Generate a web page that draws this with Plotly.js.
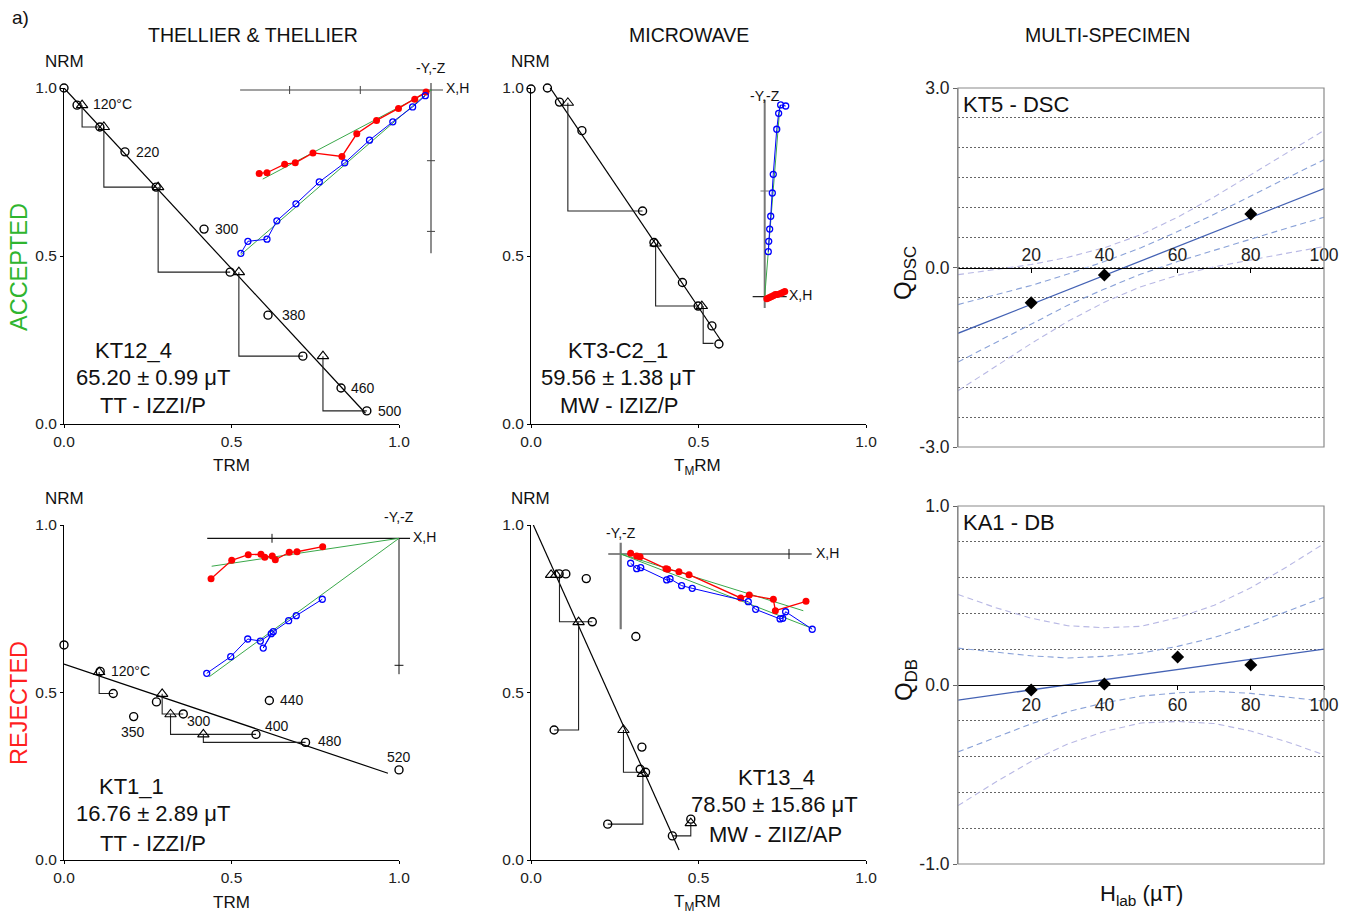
<!DOCTYPE html>
<html><head><meta charset="utf-8">
<script src="https://cdn.plot.ly/plotly-3.0.1.min.js"></script>
<style>html,body{margin:0;padding:0;background:#fff}#chart{width:1349px;height:914px}</style>
</head><body><div id="chart"></div>
<script>
const W = 1349, H = 914;
const fx = p => p / W, fy = p => 1 - p / H;
const FONT = 'Arial, "Liberation Sans", Helvetica, sans-serif';

// ===== Panel 1: Thellier accepted (KT12_4) =====
const ttA_trm = [0, 0.039, 0.107, 0.182, 0.275, 0.418, 0.496, 0.609, 0.713, 0.827, 0.904];
const ttA_nrm = [1.0, 0.949, 0.884, 0.810, 0.705, 0.580, 0.452, 0.324, 0.202, 0.107, 0.039];
const ttA_chkTrm = [0.054, 0.119, 0.281, 0.522, 0.773];
const ttA_chkNrm = [0.949, 0.884, 0.705, 0.452, 0.202];
const ttA_stepX0 = [0.054, 0.119, 0.281, 0.522, 0.773];
const ttA_stepY0 = [0.949, 0.884, 0.705, 0.452, 0.202];
const ttA_stepX1 = [0.107, 0.275, 0.496, 0.713, 0.904];
const ttA_stepY1 = [0.884, 0.705, 0.452, 0.202, 0.039];
const ttA_fitTrm = [0, 0.90];
const ttA_fitNrm = [1.0, 0.032];
const ttA_tempLbl = ['120°C', '220', '300', '380', '460', '500'];
const ttA_tempX = [0.081, 0.209, 0.445, 0.645, 0.851, 0.931];
const ttA_tempY = [0.952, 0.810, 0.580, 0.324, 0.107, 0.039];

// Zijderveld inset 1 (units of one tick spacing)
const zA_hX = [-2.43, -2.32, -2.07, -1.92, -1.67, -1.26, -1.05, -0.77, -0.46, -0.23, -0.07];
const zA_hY = [-1.18, -1.17, -1.05, -1.03, -0.89, -0.94, -0.62, -0.43, -0.26, -0.13, -0.03];
const zA_vX = [-2.69, -2.59, -2.32, -2.18, -1.91, -1.58, -1.22, -0.87, -0.54, -0.26, -0.08];
const zA_vY = [-2.31, -2.14, -2.11, -1.85, -1.61, -1.30, -1.03, -0.71, -0.45, -0.24, -0.08];
const zA_hFitX = [-2.38, 0.01], zA_hFitY = [-1.26, 0.0];
const zA_vFitX = [-2.69, 0.0], zA_vFitY = [-2.33, 0.0];

// ===== Panel 2: Microwave accepted (KT3-C2_1) =====
const mwA_trm = [0, 0.049, 0.085, 0.152, 0.333, 0.367, 0.452, 0.499, 0.540, 0.561];
const mwA_nrm = [0.997, 1.0, 0.958, 0.873, 0.634, 0.540, 0.421, 0.351, 0.292, 0.238];
const mwA_chkTrm = [0.110, 0.372, 0.510];
const mwA_chkNrm = [0.956, 0.537, 0.351];
const mwA_stepX0 = [0.110, 0.372, 0.514];
const mwA_stepY0 = [0.956, 0.537, 0.351];
const mwA_stepX1 = [0.333, 0.499, 0.545];
const mwA_stepY1 = [0.634, 0.351, 0.240];
const mwA_fitTrm = [0.057, 0.57];
const mwA_fitNrm = [1.001, 0.244];

const zB_vX = [0.199, 0.151, 0.132, 0.114, 0.081, 0.072, 0.057, 0.047, 0.038, 0.034];
const zB_vY = [1.804, 1.814, 1.735, 1.584, 1.158, 0.981, 0.761, 0.640, 0.524, 0.426];
const zB_hX = [0.19, 0.17, 0.15, 0.12, 0.10, 0.08, 0.06, 0.04, 0.02];
const zB_hY = [0.05, 0.04, 0.03, 0.02, 0.02, 0.01, 0.0, -0.01, -0.02];
const zB_vFitX = [0, 0.145], zB_vFitY = [0, 1.814];
const zB_hFitX = [0, 0.19], zB_hFitY = [0, 0.045];

// ===== Panel 4: Thellier rejected (KT1_1) =====
const ttR_trm = [0, 0.108, 0.147, 0.208, 0.276, 0.356, 0.573, 0.613, 0.721, 1.0];
const ttR_nrm = [0.642, 0.563, 0.497, 0.428, 0.472, 0.436, 0.375, 0.476, 0.351, 0.269];
const ttR_chkTrm = [0.105, 0.293, 0.318, 0.416];
const ttR_chkNrm = [0.561, 0.496, 0.435, 0.375];
const ttR_stepX0 = [0.105, 0.293, 0.318, 0.416];
const ttR_stepY0 = [0.561, 0.496, 0.435, 0.375];
const ttR_stepX1 = [0.147, 0.356, 0.573, 0.721];
const ttR_stepY1 = [0.497, 0.436, 0.375, 0.351];
const ttR_fitTrm = [0, 0.967];
const ttR_fitNrm = [0.585, 0.259];
const ttR_tempLbl = ['120°C', '350', '300', '400', '440', '480', '520'];
const ttR_tempX = [0.134, 0.207, 0.404, 0.635, 0.639, 0.752, 1.0];
const ttR_tempY = [0.564, 0.383, 0.416, 0.401, 0.479, 0.355, 0.307];
const ttR_tempAnchor = ['left', 'center', 'center', 'center', 'left', 'left', 'center'];

const zD_hX = [-1.480, -1.317, -1.187, -1.087, -1.057, -0.998, -0.974, -0.864, -0.803, -0.601];
const zD_hY = [-0.318, -0.173, -0.129, -0.126, -0.150, -0.139, -0.169, -0.110, -0.106, -0.066];
const zD_vX = [-1.514, -1.325, -1.191, -1.092, -1.006, -1.069, -0.990, -0.869, -0.809, -0.604];
const zD_vY = [-1.063, -0.932, -0.793, -0.809, -0.751, -0.864, -0.735, -0.649, -0.609, -0.480];
const zD_hFitX = [-1.475, 0], zD_hFitY = [-0.220, 0];
const zD_vFitX = [-1.494, 0], zD_vFitY = [-1.090, 0];

// ===== Panel 5: Microwave rejected (KT13_4) =====
const mwR_trm = [0, 0.084, 0.104, 0.165, 0.183, 0.313, 0.069, 0.331, 0.326, 0.342, 0.229, 0.422, 0.477];
const mwR_nrm = [1.003, 0.854, 0.854, 0.840, 0.711, 0.667, 0.388, 0.337, 0.271, 0.262, 0.107, 0.072, 0.122];
const mwR_chkTrm = [0.060, 0.075, 0.142, 0.276, 0.334, 0.477];
const mwR_chkNrm = [0.851, 0.851, 0.710, 0.388, 0.257, 0.110];
const mwR_stepX0 = [0.085, 0.142, 0.276, 0.334, 0.477];
const mwR_stepY0 = [0.851, 0.710, 0.388, 0.257, 0.110];
const mwR_stepX1 = [0.183, 0.069, 0.342, 0.229, 0.422];
const mwR_stepY1 = [0.711, 0.388, 0.262, 0.107, 0.072];
const mwR_fitTrm = [0.007, 0.442];
const mwR_fitNrm = [1.0, 0.030];

const zE_hX = [0.059, 0.095, 0.115, 0.269, 0.279, 0.346, 0.406, 0.713, 0.764, 0.907, 0.919, 1.101];
const zE_hY = [0.004, -0.012, -0.016, -0.087, -0.091, -0.105, -0.123, -0.261, -0.244, -0.269, -0.337, -0.281];
const zE_vX = [0.059, 0.095, 0.119, 0.273, 0.293, 0.362, 0.425, 0.758, 0.802, 0.947, 0.963, 0.980, 1.138];
const zE_vY = [-0.055, -0.087, -0.081, -0.154, -0.147, -0.188, -0.204, -0.283, -0.329, -0.386, -0.382, -0.343, -0.447];
const zE_hFitX = [0, 1.085], zE_hFitY = [0, -0.337];
const zE_vFitX = [0, 1.135], zE_vFitY = [0, -0.441];

// ===== Panel 3: Multi-specimen DSC (KT5) =====
const dsc_H = [20, 40, 80];
const dsc_Q = [-0.59, -0.126, 0.896];
const dsc_fitH = [0, 100], dsc_fitQ = [-1.10, 1.32];
const dsc_bandH = [0, 10, 20, 30, 40, 50, 60, 70, 80, 90, 100];
const dsc_inUp = [-0.62, -0.46, -0.30, -0.11, 0.10, 0.33, 0.60, 0.89, 1.20, 1.50, 1.80];
const dsc_inLo = [-1.58, -1.26, -0.94, -0.63, -0.36, -0.11, 0.10, 0.29, 0.48, 0.66, 0.84];
const dsc_outUp = [-0.12, -0.04, 0.05, 0.17, 0.33, 0.55, 0.84, 1.18, 1.55, 1.92, 2.29];
const dsc_outLo = [-2.06, -1.66, -1.27, -0.90, -0.58, -0.32, -0.13, 0.01, 0.13, 0.24, 0.35];

// ===== Panel 6: Multi-specimen DB (KA1) =====
const db_H = [20, 40, 60, 80];
const db_Q = [-0.028, 0.006, 0.156, 0.112];
const db_fitH = [0, 100], db_fitQ = [-0.084, 0.20];
const db_bandH = [0, 10, 20, 30, 40, 50, 60, 70, 80, 90, 100];
const db_inUp = [0.206, 0.184, 0.163, 0.151, 0.160, 0.178, 0.216, 0.265, 0.333, 0.412, 0.490];
const db_inLo = [-0.374, -0.296, -0.217, -0.149, -0.100, -0.062, -0.044, -0.035, -0.047, -0.068, -0.090];
const db_outUp = [0.506, 0.434, 0.373, 0.331, 0.320, 0.328, 0.376, 0.445, 0.543, 0.662, 0.790];
const db_outLo = [-0.674, -0.546, -0.427, -0.329, -0.260, -0.212, -0.204, -0.215, -0.257, -0.318, -0.390];

// ---------------- build ----------------
const traces = [];
const shapes = [];
const annotations = [];

function stepPath(x0, y0, x1, y1) {
  const xs = [], ys = [];
  for (let i = 0; i < x0.length; i++) {
    xs.push(x0[i], x0[i], x1[i], null);
    ys.push(y0[i], y1[i], y1[i], null);
  }
  return [xs, ys];
}

function arai(ax, trm, nrm, chkT, chkN, sx0, sy0, sx1, sy1, fitT, fitN) {
  const xa = 'x' + ax, ya = 'y' + ax;
  const [sx, sy] = stepPath(sx0, sy0, sx1, sy1);
  traces.push({x: fitT, y: fitN, xaxis: xa, yaxis: ya, mode: 'lines', line: {color: '#000', width: 1.2}, cliponaxis: false, hoverinfo: 'skip'});
  traces.push({x: sx, y: sy, xaxis: xa, yaxis: ya, mode: 'lines', line: {color: '#222', width: 1.1}, cliponaxis: false, hoverinfo: 'skip'});
  traces.push({x: chkT, y: chkN, xaxis: xa, yaxis: ya, mode: 'markers', cliponaxis: false,
    marker: {symbol: 'triangle-up-open', size: 10, color: '#000', line: {width: 1.1, color: '#000'}}});
  traces.push({x: trm, y: nrm, xaxis: xa, yaxis: ya, mode: 'markers', cliponaxis: false,
    marker: {symbol: 'circle-open', size: 8, color: '#000', line: {width: 1.4, color: '#000'}}});
}

function zij(ax, hX, hY, vX, vY, hfX, hfY, vfX, vfY, hw) {
  const xa = 'x' + ax, ya = 'y' + ax;
  traces.push({x: hfX, y: hfY, xaxis: xa, yaxis: ya, mode: 'lines', line: {color: '#3aa84a', width: 1}, cliponaxis: false, hoverinfo: 'skip'});
  traces.push({x: vfX, y: vfY, xaxis: xa, yaxis: ya, mode: 'lines', line: {color: '#3aa84a', width: 1}, cliponaxis: false, hoverinfo: 'skip'});
  traces.push({x: hX, y: hY, xaxis: xa, yaxis: ya, mode: 'lines+markers', cliponaxis: false,
    line: {color: '#ff0000', width: hw || 1.3}, marker: {symbol: 'circle', size: 7, color: '#ff0000'}});
  traces.push({x: vX, y: vY, xaxis: xa, yaxis: ya, mode: 'lines+markers', cliponaxis: false,
    line: {color: '#0000ff', width: 1}, marker: {symbol: 'circle-open', size: 6, color: '#0000ff', line: {width: 1.3}}});
}

function multi(ax, H_, Q_, fH, fQ, bH, inU, inL, outU, outL) {
  const xa = 'x' + ax, ya = 'y' + ax;
  const outer = {color: '#b8b8e4', width: 1.1, dash: '6px,4px'};
  const inner = {color: '#8aa2d8', width: 1.1, dash: '6px,4px'};
  traces.push({x: bH, y: outU, xaxis: xa, yaxis: ya, mode: 'lines', line: outer, hoverinfo: 'skip'});
  traces.push({x: bH, y: outL, xaxis: xa, yaxis: ya, mode: 'lines', line: outer, hoverinfo: 'skip'});
  traces.push({x: bH, y: inU, xaxis: xa, yaxis: ya, mode: 'lines', line: inner, hoverinfo: 'skip'});
  traces.push({x: bH, y: inL, xaxis: xa, yaxis: ya, mode: 'lines', line: inner, hoverinfo: 'skip'});
  traces.push({x: fH, y: fQ, xaxis: xa, yaxis: ya, mode: 'lines', line: {color: '#4462b4', width: 1.3}, hoverinfo: 'skip'});
  traces.push({x: H_, y: Q_, xaxis: xa, yaxis: ya, mode: 'markers', cliponaxis: false,
    marker: {symbol: 'diamond', size: 10, color: '#000'}});
}

arai('', ttA_trm, ttA_nrm, ttA_chkTrm, ttA_chkNrm, ttA_stepX0, ttA_stepY0, ttA_stepX1, ttA_stepY1, ttA_fitTrm, ttA_fitNrm);
arai('2', mwA_trm, mwA_nrm, mwA_chkTrm, mwA_chkNrm, mwA_stepX0, mwA_stepY0, mwA_stepX1, mwA_stepY1, mwA_fitTrm, mwA_fitNrm);
arai('4', ttR_trm, ttR_nrm, ttR_chkTrm, ttR_chkNrm, ttR_stepX0, ttR_stepY0, ttR_stepX1, ttR_stepY1, ttR_fitTrm, ttR_fitNrm);
arai('5', mwR_trm, mwR_nrm, mwR_chkTrm, mwR_chkNrm, mwR_stepX0, mwR_stepY0, mwR_stepX1, mwR_stepY1, mwR_fitTrm, mwR_fitNrm);
multi('3', dsc_H, dsc_Q, dsc_fitH, dsc_fitQ, dsc_bandH, dsc_inUp, dsc_inLo, dsc_outUp, dsc_outLo);
multi('6', db_H, db_Q, db_fitH, db_fitQ, db_bandH, db_inUp, db_inLo, db_outUp, db_outLo);

// insets: axis index, pixel box, origin pixel, px per unit
const insets = [
  {ax: '7', box: [230, 460, 60, 260], o: [431, 90], u: 70.7},
  {ax: '8', box: [735, 835, 85, 315], o: [764.7, 296.7], u: 105.7},
  {ax: '9', box: [195, 445, 505, 690], o: [399, 538.3], u: 127},
  {ax: '10', box: [595, 840, 525, 640], o: [620.7, 554], u: 168.3}
];
zij('7', zA_hX, zA_hY, zA_vX, zA_vY, zA_hFitX, zA_hFitY, zA_vFitX, zA_vFitY);
zij('8', zB_hX, zB_hY, zB_vX, zB_vY, zB_hFitX, zB_hFitY, zB_vFitX, zB_vFitY, 2.5);
zij('9', zD_hX, zD_hY, zD_vX, zD_vY, zD_hFitX, zD_hFitY, zD_vFitX, zD_vFitY);
zij('10', zE_hX, zE_hY, zE_vX, zE_vY, zE_hFitX, zE_hFitY, zE_vFitX, zE_vFitY);

const layout = {
  width: W, height: H, autosize: false,
  margin: {l: 0, r: 0, t: 0, b: 0, pad: 0},
  paper_bgcolor: '#fff', plot_bgcolor: 'rgba(0,0,0,0)',
  showlegend: false,
  font: {family: FONT, color: '#111', size: 14},
  shapes: shapes, annotations: annotations
};

function araiAxes(ax, x0, x1, yTop, yBot) {
  const common = {range: [0, 1], tickvals: [0, 0.5, 1], ticktext: ['0.0', '0.5', '1.0'],
    showline: true, linecolor: '#000', linewidth: 1, ticks: 'outside', ticklen: 3, tickcolor: '#000',
    showgrid: false, zeroline: false, tickfont: {size: 15.5, color: '#222'}, fixedrange: true};
  layout['xaxis' + ax] = Object.assign({}, common, {domain: [fx(x0), fx(x1)], anchor: 'y' + ax});
  layout['yaxis' + ax] = Object.assign({}, common, {domain: [fy(yBot), fy(yTop)], anchor: 'x' + ax});
}
araiAxes('', 64, 399, 88, 424);
araiAxes('2', 531, 866, 88, 424);
araiAxes('4', 64, 399, 525, 860);
araiAxes('5', 531, 866, 525, 860);

function multiAxes(ax, yTop, yBot, zeroPx, yMax, minorStep, labelsTop) {
  layout['xaxis' + ax] = {domain: [fx(958), fx(1324)], range: [0, 100], anchor: 'free', position: fy(zeroPx),
    side: labelsTop ? 'top' : 'bottom', tickvals: [20, 40, 60, 80, 100], ticks: labelsTop ? 'inside' : 'outside', ticklen: 4,
    tickcolor: '#000', showline: true, linecolor: '#000', linewidth: 1.3, showgrid: false, zeroline: false,
    tickfont: {size: 17.5, color: '#222'}, fixedrange: true};
  layout['yaxis' + ax] = {domain: [fy(yBot), fy(yTop)], range: [-yMax, yMax], anchor: 'x' + ax,
    tickvals: [-yMax, 0, yMax], ticktext: [(-yMax).toFixed(1), '0.0', yMax.toFixed(1)],
    ticks: 'outside', ticklen: 4, tickcolor: '#666', showline: true, linecolor: '#888', linewidth: 1,
    showgrid: false, zeroline: false, tickfont: {size: 17.5, color: '#222'}, fixedrange: true,
    minor: {dtick: minorStep, showgrid: true, gridcolor: '#666', griddash: '2px,2px', gridwidth: 1, ticks: ''}};
  shapes.push({type: 'rect', xref: 'x' + ax + ' domain', yref: 'y' + ax + ' domain', x0: 0, x1: 1, y0: 0, y1: 1,
    line: {color: '#8a8a8a', width: 1.2}, layer: 'above'});
}
multiAxes('3', 88, 447, 267.5, 3, 0.5, true);
multiAxes('6', 506, 864, 685, 1, 0.2, false);

insets.forEach(s => {
  const [bx0, bx1, by0, by1] = s.box;
  layout['xaxis' + s.ax] = {domain: [fx(bx0), fx(bx1)], range: [(bx0 - s.o[0]) / s.u, (bx1 - s.o[0]) / s.u],
    anchor: 'y' + s.ax, visible: false, fixedrange: true};
  layout['yaxis' + s.ax] = {domain: [fy(by1), fy(by0)], range: [(s.o[1] - by1) / s.u, (s.o[1] - by0) / s.u],
    anchor: 'x' + s.ax, visible: false, fixedrange: true};
});

// inset axis lines (in inset units): [axis, hx0, hx1, vy0, vy1, xTicks, yTicks, tickHalf, hColor, vColor, vWidth]
const insetAxes = [
  ['7', -2.70, 0.17, -2.31, 0.10, [-1, -2], [-1, -2], 0.057, '#444', '#444', 1.2],
  ['8', -0.114, 0.208, -0.107, 1.862, [], [1], 0.04, '#222', '#777', 2],
  ['9', -1.51, 0.087, -1.07, 0, [-1], [-1], 0.035, '#111', '#111', 1],
  ['10', -0.074, 1.135, -0.447, 0.067, [1], [], 0.03, '#111', '#777', 2.2]
];
insetAxes.forEach(a => {
  const xr = 'x' + a[0], yr = 'y' + a[0];
  shapes.push({type: 'line', xref: xr, yref: yr, x0: a[1], x1: a[2], y0: 0, y1: 0, line: {color: a[8], width: 1.2}, layer: 'below'});
  shapes.push({type: 'line', xref: xr, yref: yr, x0: 0, x1: 0, y0: a[3], y1: a[4], line: {color: a[9], width: a[10]}, layer: 'below'});
  a[5].forEach(t => shapes.push({type: 'line', xref: xr, yref: yr, x0: t, x1: t, y0: -a[7], y1: a[7], line: {color: a[8], width: 1}, layer: 'below'}));
  a[6].forEach(t => shapes.push({type: 'line', xref: xr, yref: yr, x0: -a[7], x1: a[7], y0: t, y1: t, line: {color: a[9], width: 1}, layer: 'below'}));
});

// ---------- annotations ----------
function pa(text, px, py, size, opts) {
  annotations.push(Object.assign({text: text, xref: 'paper', yref: 'paper', x: fx(px), y: fy(py),
    xanchor: 'center', yanchor: 'middle', showarrow: false, font: {size: size, color: '#111', family: FONT}}, opts || {}));
}
pa('a)', 20, 17, 19);
pa('THELLIER &amp; THELLIER', 253, 35, 19.5);
pa('MICROWAVE', 689, 35, 19.5);
pa('MULTI-SPECIMEN', 1107, 35, 19.5);
pa('ACCEPTED', 19, 267, 23.5, {textangle: -90, font: {size: 23.5, color: '#2fb52f', family: FONT}});
pa('REJECTED', 19, 703, 23.5, {textangle: -90, font: {size: 23.5, color: '#ff1f1f', family: FONT}});

pa('NRM', 64, 62, 17); pa('TRM', 231, 466, 17);
pa('NRM', 530, 62, 17); pa('T<sub>M</sub>RM', 697, 467, 17);
pa('NRM', 64, 498, 17); pa('TRM', 231, 902, 17);
pa('NRM', 530, 498, 17); pa('T<sub>M</sub>RM', 697, 903, 17);

pa('KT12_4', 133, 350, 22); pa('65.20 ± 0.99 μT', 153, 377, 22); pa('TT - IZZI/P', 153, 406, 22);
pa('KT3-C2_1', 618, 350, 22); pa('59.56 ± 1.38 μT', 618, 377, 22); pa('MW - IZIZ/P', 619, 406, 22);
pa('KT1_1', 131, 786, 22); pa('16.76 ± 2.89 μT', 153, 813, 22); pa('TT - IZZI/P', 153, 843, 22);
pa('KT13_4', 776, 777, 22); pa('78.50 ± 15.86 μT', 774, 804, 22); pa('MW - ZIIZ/AP', 775, 834, 22);

pa('KT5 - DSC', 961, 104, 22, {xanchor: 'left'});
pa('KA1 - DB', 961, 522, 22, {xanchor: 'left'});
pa('Q<sub>DSC</sub>', 905, 273, 24, {textangle: -90});
pa('Q<sub>DB</sub>', 905, 680, 24, {textangle: -90});
pa('H<sub>lab</sub> (µT)', 1141, 895, 22);

// temperature labels
function dataLbl(ax, lbls, xs, ys, anchors) {
  lbls.forEach((t, i) => annotations.push({text: t, xref: 'x' + ax, yref: 'y' + ax, x: xs[i], y: ys[i],
    xanchor: anchors ? anchors[i] : 'left', yanchor: 'middle', showarrow: false, font: {size: 14, color: '#111', family: FONT}}));
}
dataLbl('', ttA_tempLbl, ttA_tempX, ttA_tempY);
dataLbl('4', ttR_tempLbl, ttR_tempX, ttR_tempY, ttR_tempAnchor);

// inset axis labels
function insetLbl(ax, t, x, y, anchor) {
  annotations.push({text: t, xref: 'x' + ax, yref: 'y' + ax, x: x, y: y, xanchor: anchor || 'center', yanchor: 'middle',
    showarrow: false, font: {size: 14, color: '#111', family: FONT}});
}
insetLbl('7', '-Y,-Z', 0.0, 0.31); insetLbl('7', 'X,H', 0.38, 0.03);
insetLbl('8', '-Y,-Z', 0.0, 1.90); insetLbl('8', 'X,H', 0.34, 0.016);
insetLbl('9', '-Y,-Z', 0.0, 0.168); insetLbl('9', 'X,H', 0.20, 0.01);
insetLbl('10', '-Y,-Z', 0.0, 0.125); insetLbl('10', 'X,H', 1.23, 0.006);

Plotly.newPlot('chart', traces, layout, {displayModeBar: false, staticPlot: true});
</script></body></html>
